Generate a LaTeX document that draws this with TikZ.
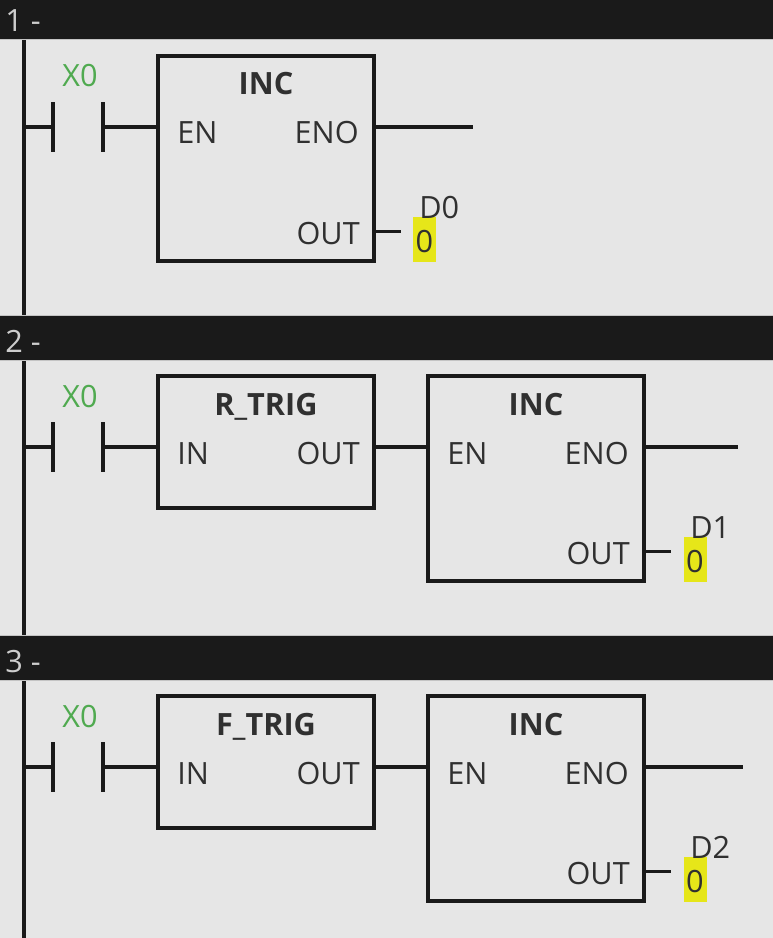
\documentclass[tikz,border=0pt]{standalone}
\usepackage{fontspec}
\setmainfont{Open Sans}
\usetikzlibrary{positioning}
\definecolor{ldbg}{RGB}{230,230,230}
\definecolor{ldbar}{RGB}{26,26,26}
\definecolor{ldedge}{RGB}{196,196,196}
\definecolor{ldline}{RGB}{26,26,26}
\definecolor{ldtext}{RGB}{48,48,48}
\definecolor{ldno}{RGB}{205,205,205}
\definecolor{ldgreen}{RGB}{80,170,80}
\definecolor{ldyellow}{RGB}{230,230,25}

\begin{document}
\begin{tikzpicture}[x=0.75pt,y=0.75pt,yscale=-1,xscale=1,
  every node/.style={font=\fontsize{23}{28}\selectfont, text=ldtext, inner sep=0pt},
  wire/.style={draw=ldline, line width=2.8pt},
  fblock/.style={draw=ldline, line width=2.8pt, rectangle, minimum width=162pt},
  contact/.style={rectangle, minimum width=37.5pt, minimum height=36.75pt},
  valbox/.style={fill=ldyellow, minimum width=17.25pt, minimum height=33.75pt, text height=20pt, text depth=0pt},
  rungbar/.style={fill=ldbar, draw=ldedge, line width=0.75pt}]
\useasboundingbox (0,0) rectangle (773,938);
\clip (0,0) rectangle (773,938);

%Shape: Background
\fill[ldbg] (0,0) rectangle (773,938);

%Shape: Power rail
\coordinate (railtop) at (23.5,40);
\coordinate (railbot) at (23.5,938);
\draw[wire, line width=3pt] (railtop) -- (railbot);

%Shape: Rung bars
\draw[rungbar] (-2,-5) rectangle (775,40);
\draw[rungbar] (-2,315) rectangle (775,360);
\draw[rungbar] (-2,635) rectangle (775,680);

% Text Node
\node[text=ldno, anchor=base west] (no1) at (5,32) {1 -};
\node[text=ldno, anchor=base west] (no2) at (5,352) {2 -};
\node[text=ldno, anchor=base west] (no3) at (5,672) {3 -};

%%%%%%%% rung 1
\coordinate (rail1) at (23.5,127);
\node[contact] (x1) at (78,127) {};
\draw[wire] (x1.north west) -- (x1.south west);
\draw[wire] (x1.north east) -- (x1.south east);
\node[text=ldgreen, anchor=base] (x1lbl) at (80,87) {X0};

%Shape: Square
\node[fblock, minimum height=153.75pt] (inc1) at (266,158.5) {};
\node[anchor=base] (inc1t) at (266,95) {\bfseries INC};
\node[anchor=base west] (inc1en) at (177,144) {EN};
\node[anchor=base east] (inc1eno) at (359,144) {ENO};
\node[anchor=base east] (inc1out) at (360,244) {OUT};

\coordinate (eno1) at (473,127);
\coordinate (out1) at (401,231.5);
\node[valbox] (d0v) at (424.5,239.5) {0};
\node[anchor=base west] (d0) at (419,218) {D0};

\draw[wire] (rail1) -- (x1.west);
\draw[wire] (x1.east) -- (x1.east -| inc1.west);
\draw[wire] (eno1 -| inc1.east) -- (eno1);
\draw[wire] (out1 -| inc1.east) -- (out1);

%%%%%%%% rung 2
\coordinate (rail2) at (23.5,447);
\node[contact] (x2) at (78,447) {};
\draw[wire] (x2.north west) -- (x2.south west);
\draw[wire] (x2.north east) -- (x2.south east);
\node[text=ldgreen, anchor=base] (x2lbl) at (80,407) {X0};

%Shape: Square
\node[fblock, minimum height=99pt] (rtrig) at (266,442) {};
\node[anchor=base] (rtrigt) at (266,415) {\bfseries R\_TRIG};
\node[anchor=base west] (rtrigin) at (177,464) {IN};
\node[anchor=base east] (rtrigout) at (360,464) {OUT};

%Shape: Square
\node[fblock, minimum height=153.75pt] (inc2) at (536,478.5) {};
\node[anchor=base] (inc2t) at (536,415) {\bfseries INC};
\node[anchor=base west] (inc2en) at (447,464) {EN};
\node[anchor=base east] (inc2eno) at (629,464) {ENO};
\node[anchor=base east] (inc2out) at (630,564) {OUT};

\coordinate (eno2) at (738,447);
\coordinate (out2) at (671,551.5);
\node[valbox] (d1v) at (695,559.5) {0};
\node[anchor=base west] (d1) at (690,538) {D1};

\draw[wire] (rail2) -- (x2.west);
\draw[wire] (x2.east) -- (x2.east -| rtrig.west);
\draw[wire] (x2.east -| rtrig.east) -- (x2.east -| inc2.west);
\draw[wire] (eno2 -| inc2.east) -- (eno2);
\draw[wire] (out2 -| inc2.east) -- (out2);

%%%%%%%% rung 3
\coordinate (rail3) at (23.5,767);
\node[contact] (x3) at (78,767) {};
\draw[wire] (x3.north west) -- (x3.south west);
\draw[wire] (x3.north east) -- (x3.south east);
\node[text=ldgreen, anchor=base] (x3lbl) at (80,727) {X0};

%Shape: Square
\node[fblock, minimum height=99pt] (ftrig) at (266,762) {};
\node[anchor=base] (ftrigt) at (266,735) {\bfseries F\_TRIG};
\node[anchor=base west] (ftrigin) at (177,784) {IN};
\node[anchor=base east] (ftrigout) at (360,784) {OUT};

%Shape: Square
\node[fblock, minimum height=153.75pt] (inc3) at (536,798.5) {};
\node[anchor=base] (inc3t) at (536,735) {\bfseries INC};
\node[anchor=base west] (inc3en) at (447,784) {EN};
\node[anchor=base east] (inc3eno) at (629,784) {ENO};
\node[anchor=base east] (inc3out) at (630,884) {OUT};

\coordinate (eno3) at (743,767);
\coordinate (out3) at (671,871.5);
\node[valbox] (d2v) at (695,879.5) {0};
\node[anchor=base west] (d2) at (690,858) {D2};

\draw[wire] (rail3) -- (x3.west);
\draw[wire] (x3.east) -- (x3.east -| ftrig.west);
\draw[wire] (x3.east -| ftrig.east) -- (x3.east -| inc3.west);
\draw[wire] (eno3 -| inc3.east) -- (eno3);
\draw[wire] (out3 -| inc3.east) -- (out3);

\end{tikzpicture}
\end{document}
